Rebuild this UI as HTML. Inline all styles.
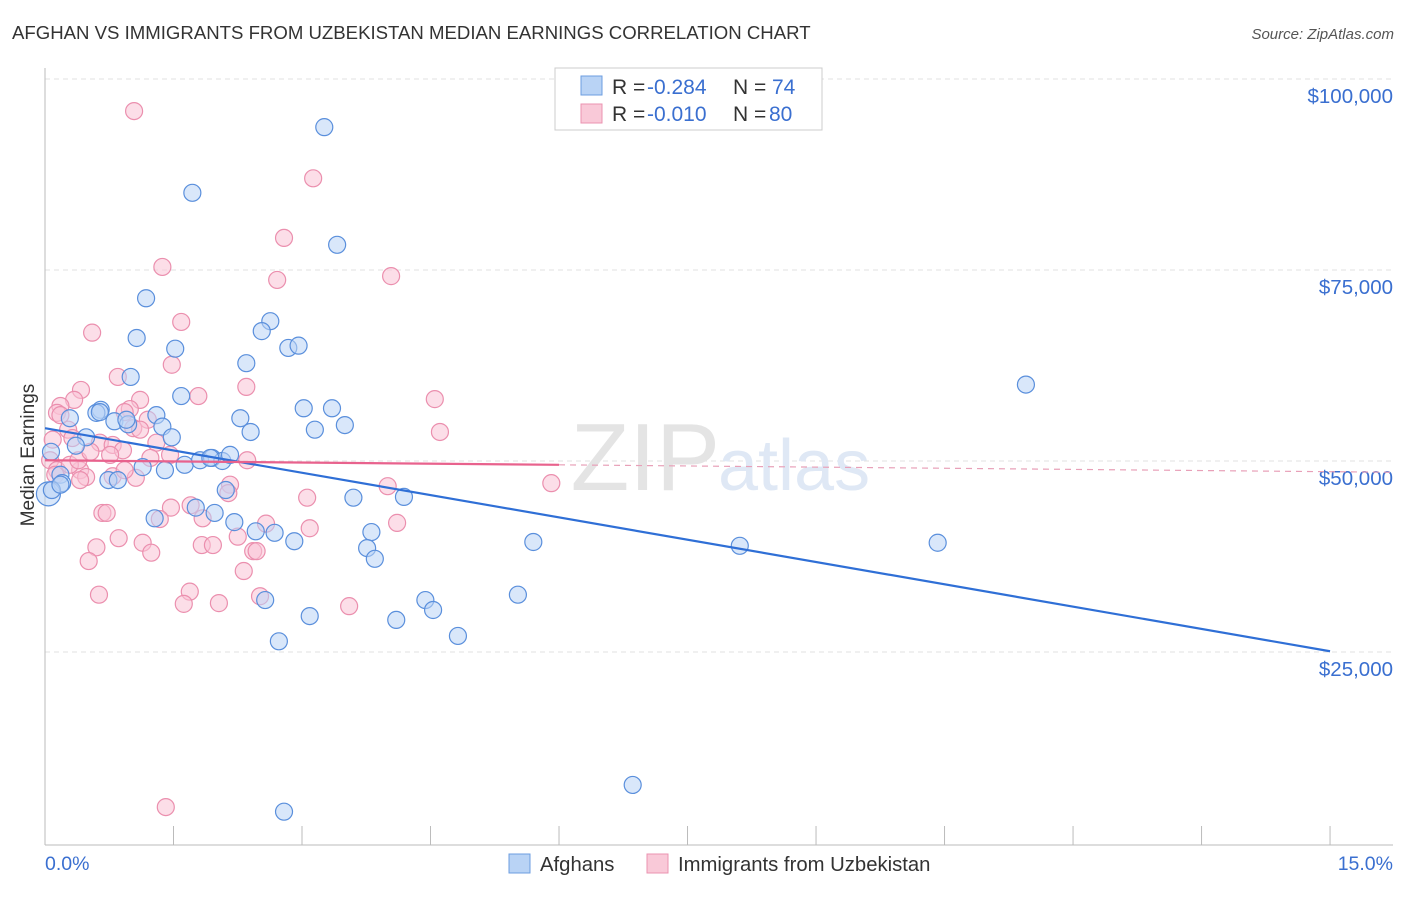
<!DOCTYPE html>
<html><head><meta charset="utf-8">
<style>
body{margin:0;background:#fff;font-family:"Liberation Sans",sans-serif;}
svg text{font-family:"Liberation Sans",sans-serif;}
</style></head>
<body>
<svg id="chart" width="1406" height="892" viewBox="0 0 1406 892">
<text x="12" y="39" font-size="18.6" fill="#333">AFGHAN VS IMMIGRANTS FROM UZBEKISTAN MEDIAN EARNINGS CORRELATION CHART</text>
<text x="1394" y="39" font-size="15" fill="#555" text-anchor="end" font-style="italic">Source: ZipAtlas.com</text>
<g id="grid"></g>
<text x="720" y="490" font-size="96" fill="#e4e4e4" text-anchor="end" font-family="Liberation Serif">ZIP</text>
<text x="718" y="490" font-size="72" fill="#dfe8f5">atlas</text>
<g id="pts"></g>
<g id="lines"></g>
<text x="34" y="455" font-size="19" fill="#333" text-anchor="middle" transform="rotate(-90 34 455)">Median Earnings</text>
<g>
<rect x="555" y="68" width="267" height="62" fill="#fff" stroke="#ccc"/>
<rect x="581" y="76" width="21" height="19" fill="#b9d3f5" stroke="#6c9ee0"/>
<rect x="581" y="104" width="21" height="19" fill="#f9c9d8" stroke="#eb93b0"/>
<text y="94" font-size="21"><tspan x="612" fill="#333">R = </tspan><tspan x="647" fill="#3a6fd0">-0.284</tspan><tspan x="733" fill="#333">N = </tspan><tspan x="772" fill="#3a6fd0">74</tspan></text>
<text y="121" font-size="21"><tspan x="612" fill="#333">R = </tspan><tspan x="647" fill="#3a6fd0">-0.010</tspan><tspan x="733" fill="#333">N = </tspan><tspan x="769" fill="#3a6fd0">80</tspan></text>
</g>
<g>
<rect x="509" y="854" width="21" height="19" fill="#b9d3f5" stroke="#6c9ee0"/>
<text x="540" y="871" font-size="20.3" fill="#333">Afghans</text>
<rect x="647" y="854" width="21" height="19" fill="#f9c9d8" stroke="#eb93b0"/>
<text x="678" y="871" font-size="20.3" fill="#333">Immigrants from Uzbekistan</text>
</g>
</svg>
<script>
const yTicks=[25000,50000,75000,100000];
const yTickLabels=["$25,000","$50,000","$75,000","$100,000"];
const xTickLabels=["0.0%","15.0%"];
const blueX=[3.26,1.72,3.41,1.18,1.07,1.52,2.63,2.53,2.84,2.96,1.00,2.35,1.59,11.45,3.02,3.35,0.65,0.60,0.29,0.81,0.97,1.30,1.37,2.28,2.40,3.50,3.15,1.48,0.48,0.36,0.07,1.14,1.40,1.63,1.81,1.95,2.07,2.16,0.18,0.20,0.74,0.85,0.04,0.08,2.11,1.76,1.28,1.98,2.21,2.68,2.46,2.91,3.60,4.19,3.81,3.76,3.85,5.70,8.11,10.42,5.52,4.44,4.53,2.57,3.09,4.10,4.82,2.73,6.86,2.79,1.93,0.64,0.95,0.18];
const blueY=[93.7,85.1,78.3,71.3,66.1,64.7,68.3,67.0,64.8,65.1,61.0,62.8,58.5,60.0,56.9,56.9,56.7,56.3,55.6,55.2,54.8,56.0,54.5,55.6,53.8,54.7,54.1,53.1,53.1,52.0,51.2,49.2,48.8,49.5,50.1,50.4,50.0,50.8,48.2,47.1,47.5,47.5,45.7,46.2,46.2,43.9,42.5,43.2,42.0,40.6,40.8,39.5,45.2,45.3,40.7,38.6,37.2,39.4,38.9,39.3,32.5,31.8,30.5,31.8,29.7,29.2,27.1,26.4,7.6,4.1,50.4,56.4,55.4,46.9];
const pinkX=[1.04,3.13,2.79,1.37,4.04,2.71,1.59,0.55,1.48,0.85,2.35,0.42,1.79,1.11,0.34,0.18,0.14,4.55,0.99,0.93,1.20,1.03,0.27,4.61,0.32,0.64,0.79,0.91,1.30,0.09,0.06,0.14,0.41,0.48,1.06,0.79,1.23,1.46,2.36,0.29,0.39,5.91,4.00,2.16,2.14,3.06,1.70,1.47,1.34,0.67,0.72,0.86,0.60,1.14,1.24,1.84,2.58,2.25,1.83,1.96,2.43,2.47,3.09,4.11,0.51,2.32,1.69,2.51,0.63,1.62,2.03,3.55,1.41,0.18,0.12,0.93,0.41,0.76,0.53,1.11];
const pinkY=[95.8,87.0,79.2,75.4,74.2,73.7,68.2,66.8,62.6,61.0,59.7,59.3,58.5,58.0,58.0,57.2,56.3,58.1,56.8,56.4,55.4,54.3,54.1,53.8,53.0,52.4,52.1,51.4,52.4,52.8,50.1,48.8,48.8,47.9,47.8,48.0,50.4,50.8,50.1,49.5,50.1,47.1,46.7,46.9,45.8,45.2,44.2,43.9,42.4,43.2,43.2,39.9,38.7,39.3,38.0,42.5,41.8,40.1,39.0,39.0,38.2,38.2,41.2,41.9,36.9,35.6,32.9,32.3,32.5,31.3,31.4,31.0,4.7,56.0,48.2,48.8,47.5,50.8,51.2,54.1];
const blueTrend=[54.3,25.1];
const pinkTrend=[50.1,48.6];

const NS="http://www.w3.org/2000/svg";
const xs=p=>45+p*85.67;
const ys=v=>843-v/25000*191;
function mk(tag,attrs,parent){const e=document.createElementNS(NS,tag);for(const k in attrs)e.setAttribute(k,attrs[k]);parent.appendChild(e);return e;}
const grid=document.getElementById('grid');
yTicks.forEach((t,i)=>{
 const l=mk('line',{x1:45,x2:1393,y1:ys(t),y2:ys(t),stroke:'#e2e2e2','stroke-dasharray':'5,4'},grid);
 
 
 const tx=mk('text',{x:1393,y:ys(t)+24,'font-size':20.5,fill:'#3a6fd0','text-anchor':'end'},grid);
 tx.textContent=yTickLabels[i];
 
 
});
const ax=mk('line',{x1:45,x2:45,y1:68,y2:845,stroke:'#bbb'},grid);


const bx=mk('line',{x1:45,x2:1393,y1:845,y2:845,stroke:'#bbb'},grid);


for(let i=0;i<=10;i++){
 const t=mk('line',{x1:xs(i*1.5),x2:xs(i*1.5),y1:826,y2:845,stroke:'#bbb'},grid);
 
 
}
[[45,'start'],[1393,'end']].forEach((p,i)=>{
 const t=mk('text',{x:p[0],y:870,'font-size':19.5,fill:'#3a6fd0','text-anchor':p[1]},grid);
 t.textContent=xTickLabels[i];
 
 
});
const pts=document.getElementById('pts');
function drawPts(X,Y,fill,stroke,name){
 X.forEach((x,i)=>{
  const r=(i===42&&name==='afghan-point')?12:8.5;
  const c=mk('circle',{cx:xs(x),cy:ys(Y[i]*1000),r:r,fill:fill,'fill-opacity':0.55,stroke:stroke,'stroke-width':1.2},pts);
  
  
 });
}
drawPts(pinkX,pinkY,'#f9c3d5','#eb8fae','uzbekistan-point');
drawPts(blueX,blueY,'#b9d3f5','#5a8fdc','afghan-point');
const lines=document.getElementById('lines');
const py=p=>ys((pinkTrend[0]+(pinkTrend[1]-pinkTrend[0])*p/15)*1000);
const bl=mk('line',{x1:xs(0),y1:ys(blueTrend[0]*1000),x2:xs(15),y2:ys(blueTrend[1]*1000),stroke:'#2f6fd6','stroke-width':2.2},lines);


const pl=mk('line',{x1:xs(0),y1:py(0),x2:xs(6),y2:py(6),stroke:'#e8628d','stroke-width':2.2},lines);


const pd=mk('line',{x1:xs(6),y1:py(6),x2:1393,y2:py(15.73),stroke:'#e8a0b8','stroke-width':1.2,'stroke-dasharray':'6,5'},lines);


</script>
</body></html>
